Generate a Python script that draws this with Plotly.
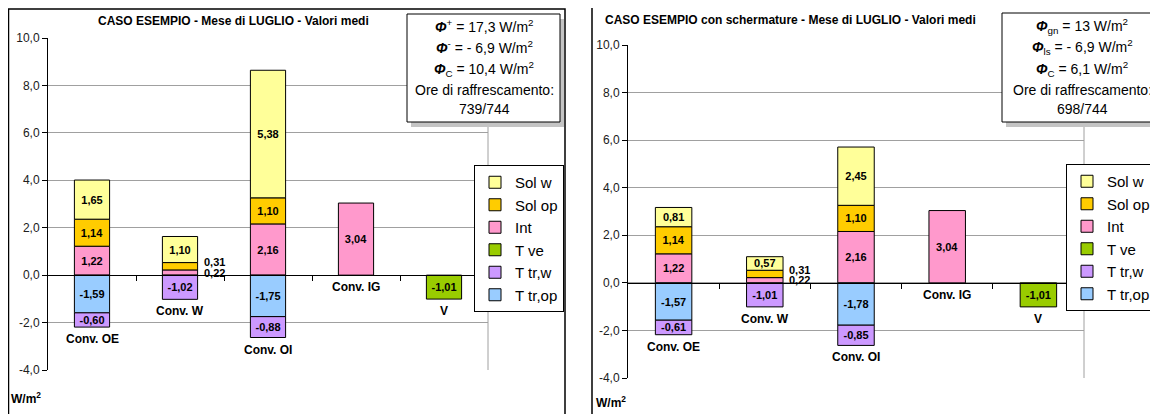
import plotly.graph_objects as go

# The page body has an 8px margin, so the figure is sized to fit inside the window
FIG_W, FIG_H = 1150, 406
OFF = 8

categories = ["Conv. OE", "Conv. W", "Conv. OI", "Conv. IG", "V"]

# legend order (top to bottom)
series_names = ["Sol w", "Sol op", "Int", "T ve", "T tr,w", "T tr,op"]
series_colors = ["#FFFF99", "#FFCC00", "#FF99CC", "#99CC00", "#CC99FF", "#99CCFF"]
# stacking order (first = closest to zero)
stack_order = ["Int", "Sol op", "Sol w", "T tr,op", "T tr,w", "T ve"]

# Left panel: CASO ESEMPIO
left_sol_w = [1.65, 1.10, 5.38, None, None]
left_sol_op = [1.14, 0.31, 1.10, None, None]
left_int = [1.22, 0.22, 2.16, 3.04, None]
left_t_ve = [None, None, None, None, -1.01]
left_t_tr_w = [-0.60, -1.02, -0.88, None, None]
left_t_tr_op = [-1.59, None, -1.75, None, None]

# Right panel: CASO ESEMPIO con schermature
right_sol_w = [0.81, 0.57, 2.45, None, None]
right_sol_op = [1.14, 0.31, 1.10, None, None]
right_int = [1.22, 0.22, 2.16, 3.04, None]
right_t_ve = [None, None, None, None, -1.01]
right_t_tr_w = [-0.61, -1.01, -0.85, None, None]
right_t_tr_op = [-1.57, None, -1.78, None, None]

y_ticks = [-4, -2, 0, 2, 4, 6, 8, 10]
y_tick_labels = ["-4,0", "-2,0", "0,0", "2,0", "4,0", "6,0", "8,0", "10,0"]
y_range = [-4, 10]

left_title = "CASO ESEMPIO - Mese di LUGLIO - Valori medi"
right_title = "CASO ESEMPIO con schermature - Mese di LUGLIO - Valori medi"
left_box_lines = [
    "<b><i>Φ</i></b><sup>+</sup> = 17,3 W/m<sup>2</sup>",
    "<b><i>Φ</i></b><sup>-</sup> = - 6,9 W/m<sup>2</sup>",
    "<b><i>Φ</i></b><sub>C</sub> = 10,4 W/m<sup>2</sup>",
    "Ore di raffrescamento:",
    "739/744",
]
right_box_lines = [
    "<b><i>Φ</i></b><sub>gn</sub> = 13 W/m<sup>2</sup>",
    "<b><i>Φ</i></b><sub>ls</sub> = - 6,9 W/m<sup>2</sup>",
    "<b><i>Φ</i></b><sub>C</sub> = 6,1 W/m<sup>2</sup>",
    "Ore di raffrescamento:",
    "698/744",
]
unit_label = "W/m<sup>2</sup>"

left_data = {"Sol w": left_sol_w, "Sol op": left_sol_op, "Int": left_int,
             "T ve": left_t_ve, "T tr,w": left_t_tr_w, "T tr,op": left_t_tr_op}
right_data = {"Sol w": right_sol_w, "Sol op": right_sol_op, "Int": right_int,
              "T ve": right_t_ve, "T tr,w": right_t_tr_w, "T tr,op": right_t_tr_op}

FONT = "Arial, Liberation Sans, sans-serif"
BAR_W = 0.4
SMALL = 0.4  # segments smaller than this get their label beside the bar


def px_x(p):
    return (p - OFF) / FIG_W


def px_y(p):
    return 1 - (p - OFF) / FIG_H


def fmt(v):
    return f"{v:.2f}".replace(".", ",")


fig = go.Figure()
annotations = []
shapes = []

panels = [
    dict(data=left_data, xa="x", ya="y", xaxis="xaxis", yaxis="yaxis", legend="legend",
         xdom=[48, 488], ydom=[38, 370], tag="L"),
    dict(data=right_data, xa="x2", ya="y2", xaxis="xaxis2", yaxis="yaxis2", legend="legend2",
         xdom=[628, 1084], ydom=[45, 378], tag="R"),
]

idx = list(range(len(categories)))
layout_axes = {}
for p in panels:
    data = p["data"]
    pos_base = [0.0] * len(categories)
    neg_base = [0.0] * len(categories)
    small_count = [0] * len(categories)
    for name in stack_order:
        vals = data[name]
        color = series_colors[series_names.index(name)]
        texts = []
        for i, v in enumerate(vals):
            if v is None:
                texts.append("")
                continue
            if v >= 0:
                base = pos_base[i]
                pos_base[i] += v
            else:
                base = neg_base[i]
                neg_base[i] += v
            if abs(v) < SMALL:
                texts.append("")
                annotations.append(dict(
                    x=i + BAR_W / 2, y=base + v / 2, xref=p["xa"], yref=p["ya"],
                    text=f"<b>{fmt(v)}</b>", showarrow=False, xanchor="left", yanchor="middle",
                    xshift=4, yshift=4 * small_count[i],
                    font=dict(family=FONT, size=11, color="black")))
                small_count[i] += 1
            else:
                texts.append(f"<b>{fmt(v)}</b>")
        fig.add_trace(go.Bar(
            x=idx, y=vals, name=name, xaxis=p["xa"], yaxis=p["ya"],
            width=BAR_W, marker=dict(color=color, line=dict(color="black", width=1)),
            text=texts, textposition="inside", insidetextanchor="middle", textangle=0,
            textfont=dict(family=FONT, size=11, color="black"),
            legend=p["legend"], legendgroup=p["tag"] + name,
            legendrank=series_names.index(name) + 1, hoverinfo="skip",
        ))
    # category labels under each bar
    for i, c in enumerate(categories):
        annotations.append(dict(
            x=i, y=min(0.0, neg_base[i]), xref=p["xa"], yref=p["ya"],
            text=f"<b>{c}</b>", showarrow=False, xanchor="center", yanchor="top", yshift=-3,
            font=dict(family=FONT, size=12, color="black")))

    xd = [px_x(v) for v in p["xdom"]]
    yd = [px_y(p["ydom"][1]), px_y(p["ydom"][0])]
    zero_pos = yd[0] + (0 - y_range[0]) / (y_range[1] - y_range[0]) * (yd[1] - yd[0])
    layout_axes[p["xaxis"]] = dict(
        domain=xd, range=[-0.5, len(categories) - 0.5], anchor="free", position=zero_pos,
        showgrid=False, zeroline=False, showline=True, linecolor="black",
        linewidth=1, tickmode="array", tickvals=[i + 0.5 for i in idx[:-1]] + [len(categories) - 0.5],
        ticks="outside", ticklen=5, tickcolor="black", showticklabels=False, fixedrange=True,
    )
    layout_axes[p["yaxis"]] = dict(
        domain=yd, range=y_range, anchor=p["xa"], tickmode="array", tickvals=y_ticks,
        ticktext=y_tick_labels, showgrid=True, gridcolor="#a0a0a0", gridwidth=1,
        zeroline=False, showline=True, linecolor="black", linewidth=1, ticks="outside",
        ticklen=5, tickcolor="black", tickfont=dict(family=FONT, size=12, color="#202020"),
        fixedrange=True,
    )
    # right border of plot area
    shapes.append(dict(type="line", xref=p["xa"] + " domain", yref=p["ya"] + " domain",
                       x0=1, x1=1, y0=0, y1=1, line=dict(color="#a0a0a0", width=1)))

# chart frames
shapes.append(dict(type="rect", xref="paper", yref="paper", x0=px_x(8.5), x1=px_x(565),
                   y0=px_y(430), y1=px_y(9), line=dict(color="black", width=1.5), layer="below"))
shapes.append(dict(type="rect", xref="paper", yref="paper", x0=px_x(592), x1=px_x(1180),
                   y0=px_y(430), y1=px_y(7), line=dict(color="black", width=1.5), layer="below"))

# info boxes with shadow
for (x0, y0, x1, y1) in [(407, 14, 560, 122), (1002, 13, 1180, 122)]:
    shapes.append(dict(type="rect", xref="paper", yref="paper", x0=px_x(x0 + 4), x1=px_x(x1 + 4),
                       y0=px_y(y1 + 5), y1=px_y(y0 + 5), line=dict(width=0), fillcolor="#c4c4c4"))
    shapes.append(dict(type="rect", xref="paper", yref="paper", x0=px_x(x0), x1=px_x(x1),
                       y0=px_y(y1), y1=px_y(y0), line=dict(color="black", width=1), fillcolor="white"))

line_y = [26, 47, 69, 90, 109]
for lines, cx in [(left_box_lines, 484), (right_box_lines, 1082)]:
    for t, ly in zip(lines, line_y):
        annotations.append(dict(x=px_x(cx), y=px_y(ly), xref="paper", yref="paper", text=t,
                                showarrow=False, xanchor="center", yanchor="middle",
                                font=dict(family=FONT, size=14, color="black")))

# titles
annotations.append(dict(x=px_x(233), y=px_y(21), xref="paper", yref="paper",
                        text=f"<b>{left_title}</b>", showarrow=False, xanchor="center",
                        yanchor="middle", font=dict(family=FONT, size=12, color="black")))
annotations.append(dict(x=px_x(603), y=px_y(20), xref="paper", yref="paper",
                        text=f"<b>{right_title}</b>", showarrow=False, xanchor="left",
                        yanchor="middle", font=dict(family=FONT, size=12, color="black")))
# unit labels
for ux, uy in [(9, 398), (594, 402)]:
    annotations.append(dict(x=px_x(ux), y=px_y(uy), xref="paper", yref="paper",
                            text=f"<b>{unit_label}</b>", showarrow=False, xanchor="left",
                            yanchor="middle", font=dict(family=FONT, size=12, color="black")))

legend_style = dict(bgcolor="white", bordercolor="black", borderwidth=1,
                    font=dict(family=FONT, size=15, color="black"), tracegroupgap=5,
                    xanchor="left", yanchor="top", traceorder="normal")

fig.update_layout(
    width=FIG_W, height=FIG_H, margin=dict(l=0, r=0, t=0, b=0, autoexpand=False),
    paper_bgcolor="white", plot_bgcolor="white", barmode="relative",
    uniformtext=dict(minsize=11, mode="show"),
    legend=dict(x=px_x(474), y=px_y(165), **legend_style),
    legend2=dict(x=px_x(1066), y=px_y(164), **legend_style),
    annotations=annotations, shapes=shapes, showlegend=True,
    **layout_axes,
)

fig.write_html("out.html")
